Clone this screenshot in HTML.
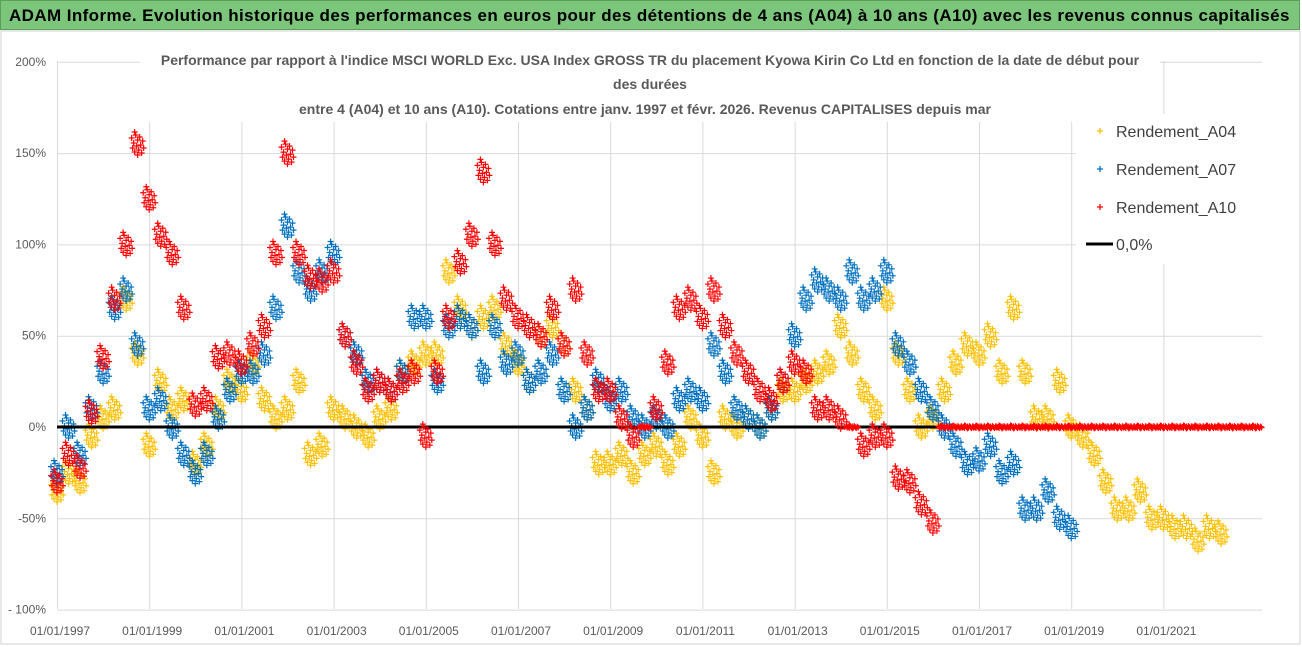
<!DOCTYPE html>
<html><head><meta charset="utf-8">
<style>
html,body{margin:0;padding:0;background:#fff;}
body{width:1302px;height:647px;overflow:hidden;position:relative;font-family:"Liberation Sans",sans-serif;}
#hdr{position:absolute;left:0;top:0;width:1300px;height:30px;background:#7cc67c;border:1px solid #5a9e5a;box-sizing:border-box;font-weight:bold;font-size:17px;line-height:29px;padding-left:8px;color:#000;white-space:nowrap;letter-spacing:0.4px;overflow:hidden}
svg{position:absolute;left:0;top:0}
</style></head><body>
<div id="hdr">ADAM Informe. Evolution historique des performances en euros pour des détentions de 4 ans (A04) à 10 ans (A10) avec les revenus connus capitalisés</div>
<svg id="chart" width="1302" height="647"></svg>
<script>
const yTicks=[200,150,100,50,0,-50,-100];
const yTickLabels=["200%","150%","100%","50%","0%","-50%","- 100%"];
const xTicks=[1997,1999,2001,2003,2005,2007,2009,2011,2013,2015,2017,2019,2021];
const xTickLabels=["01/01/1997","01/01/1999","01/01/2001","01/01/2003","01/01/2005","01/01/2007","01/01/2009","01/01/2011","01/01/2013","01/01/2015","01/01/2017","01/01/2019","01/01/2021"];
const startYear=1997, step=0.25;
const a04=[-35,-25,-30,-5, 5,10,70,40, -10,25,10,15, -20,-10,10,25, 20,35,15,5, 10,25,-15,-10, 10,5,0,-5, 5,10,30,35, 40,40,85,65, 55,60,65,45, 35,25,50,55, 45,20,10,-20, -20,-15,-25,-15, -10,-20,-10,5, -5,-25,5,0, 5,0,10,20, 20,25,30,35, 55,40,20,10, 70,40,20,0, 5,20,35,45, 40,50,30,65, 30,5,5,25, 0,-5,-15,-30, -45,-45,-35,-50, -50,-55,-55,-62, -55,-58];
const a07=[-25,0,-15,10, 30,65,75,45, 10,15,0,-15, -25,-15,5,20, 30,30,40,65, 110,85,75,85, 95,50,40,25, 25,20,30,60, 60,25,55,60, 55,30,55,35, 40,25,30,40, 20,0,10,25, 15,20,5,0, 5,0,15,20, 15,45,30,10, 5,0,10,25, 50,70,80,75, 70,85,70,75, 85,45,35,20, 10,0,-10,-20, -18,-10,-25,-20, -45,-45,-35,-50, -55];
const a10=[-30,-15,-22,8, 38,70,100,155, 125,105,95,65, 12,15,38,40, 35,45,55,95, 150,95,82,80, 85,50,35,20, 25,20,25,30, -5,30,60,90, 105,140,100,70, 60,55,50,65, 45,75,40,20, 20,5,-5,0, 10,35,65,70, 60,75,55,40, 30,20,15,25, 35,30,10,10, 5,0,-10,-5, -5,-28,-30,-42, -52,
 0,0,0, 0,0,0,0, 0,0,0,0, 0,0,0,0, 0,0,0,0, 0,0,0,0, 0,0,0,0, 0];
const zeroStart=1997, zeroEnd=2016.2;

const NS="http://www.w3.org/2000/svg";
const svg=document.getElementById('chart');
const X0=57, PXY=46.1, Y0=427, PXV=1.826, PLOT_R=1262, PLOT_T=61, PLOT_B=609;
const xs=y=>X0+(y-startYear)*PXY;
const ys=v=>Y0-v*PXV;
function mk(tag,attrs,parent){const e=document.createElementNS(NS,tag);for(const k in attrs)e.setAttribute(k,attrs[k]);(parent||svg).appendChild(e);return e;}

const frame=mk('rect',{x:1,y:31,width:1299,height:613,fill:'#fff',stroke:'#d0d0d0'});



const grid=mk('g',{stroke:'#d9d9d9','stroke-width':1});


yTicks.forEach(v=>{mk('line',{x1:X0,x2:PLOT_R,y1:ys(v)+.5,y2:ys(v)+.5},grid);});
xTicks.forEach(t=>{mk('line',{x1:xs(t)+.5,x2:xs(t)+.5,y1:PLOT_T,y2:PLOT_B},grid);});

yTicks.forEach((v,i)=>{const t=mk('text',{x:46,y:ys(v)+4,'text-anchor':'end','font-size':12,fill:'#595959'});t.textContent=yTickLabels[i];

});
xTicks.forEach((v,i)=>{const t=mk('text',{x:xs(v)+3,y:635,'text-anchor':'middle','font-size':12,fill:'#595959'});t.textContent=xTickLabels[i];

});

const offs=[[-6,-6],[-5,4],[-4,-1],[-3,8],[-2,-9],[-1,2],[0,-4],[1,6],[2,-7],[3,1],[4,9],[5,-3],[6,4],[0,11],[-3,-12]];
function drawSeries(arr,color,name){
  const g=mk('g',{stroke:color,'stroke-width':1.2,fill:'none'});
  
  
  arr.forEach((v,i)=>{
    const cx=xs(startYear+i*step), cy=ys(v);
    const isZero=(v===0&&name==='series-a10');
    offs.forEach(o=>{
      const px=cx+o[0], py=cy+(isZero?o[1]*0.12:o[1]);
      mk('path',{d:`M${px-3},${py}h6M${px},${py-3}v6`},g);
    });
  });
}
drawSeries(a04,'#FFC000','series-a04');
drawSeries(a07,'#0070C0','series-a07');
const zl=mk('line',{x1:xs(zeroStart),x2:xs(zeroEnd),y1:Y0,y2:Y0,stroke:'#000','stroke-width':3});


drawSeries(a10,'#FF0000','series-a10');

const tb=mk('rect',{x:140,y:46,width:1020,height:76,fill:'#fff'});


const titles=["Performance par rapport à l'indice MSCI WORLD Exc. USA Index GROSS TR  du placement Kyowa Kirin Co Ltd en fonction de la date de début pour","des durées","entre 4 (A04) et 10 ans (A10). Cotations entre janv. 1997 et févr. 2026. Revenus CAPITALISES depuis mar"];
const tys=[65,89,114];
titles.forEach((s,i)=>{const t=mk('text',{x:i==2?645:650,y:tys[i],'text-anchor':'middle','font-size':14,'font-weight':'bold',fill:'#595959'});t.textContent=s;

});

const lg=mk('g',{});


mk('rect',{x:1076,y:114,width:222,height:150,fill:'#fff'},lg);
const legNames=["Rendement_A04","Rendement_A07","Rendement_A10"];
const legColors=['#FFC000','#0070C0','#FF0000'];
legNames.forEach((n,i)=>{const y=131+i*38;
  mk('path',{d:`M1097,${y}h6M1100,${y-3}v6`,stroke:legColors[i],'stroke-width':1.3},lg);
  const t=mk('text',{x:1116,y:y+6,'font-size':16,fill:'#404040'},lg);t.textContent=n;
  
  
});
mk('line',{x1:1086,x2:1113,y1:244,y2:244,stroke:'#000','stroke-width':3},lg);
const zt=mk('text',{x:1116,y:250,'font-size':16,fill:'#404040'},lg);zt.textContent="0,0%";


</script>
</body></html>
